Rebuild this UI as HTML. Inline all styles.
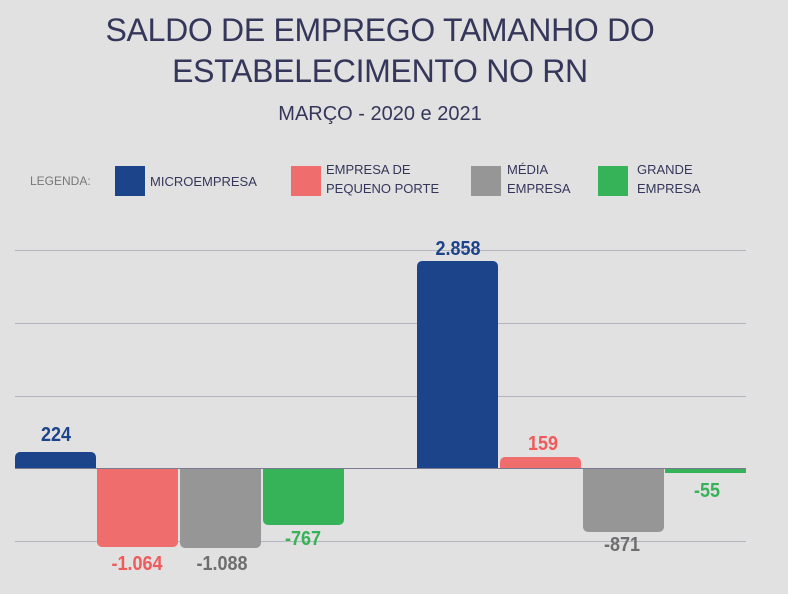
<!DOCTYPE html>
<html><head><meta charset="utf-8"><style>
body{margin:0;width:788px;height:594px;background:#e1e1e1;font-family:"Liberation Sans",sans-serif;overflow:hidden;position:relative}
.a{position:absolute}
.t{left:0;width:760px;text-align:center;color:#34375a;font-size:32px;letter-spacing:-0.3px}
.leg{font-size:13px;color:#34375a;line-height:19px}
.sq{width:30px;height:30px;top:166px}
.g{left:15px;width:731px;height:1px;background:#b4b4be}
.b{width:81px}
.up{border-radius:5px 5px 0 0}
.dn{border-radius:0 0 5px 5px}
.l{font-weight:bold;font-size:20px;width:100px;text-align:center;transform:scaleX(0.9)}
</style></head><body>
<div class="a t" style="top:12px">SALDO DE EMPREGO TAMANHO DO</div>
<div class="a t" style="top:53px">ESTABELECIMENTO NO RN</div>
<div class="a t" style="top:103px;font-size:20px;letter-spacing:0">MARÇO - 2020 e 2021</div>
<div class="a leg" style="left:30px;top:172px;color:#777;font-size:12px">LEGENDA:</div>
<div class="a sq" style="left:115px;background:#1c448a"></div>
<div class="a leg" style="left:150px;top:172px">MICROEMPRESA</div>
<div class="a sq" style="left:291px;background:#ef6d6d"></div>
<div class="a leg" style="left:326px;top:160px">EMPRESA DE<br>PEQUENO PORTE</div>
<div class="a sq" style="left:471px;background:#969696"></div>
<div class="a leg" style="left:507px;top:160px">MÉDIA<br>EMPRESA</div>
<div class="a sq" style="left:598px;background:#36b358"></div>
<div class="a leg" style="left:637px;top:160px">GRANDE<br>EMPRESA</div>
<div class="a g" style="top:250px"></div>
<div class="a g" style="top:323px"></div>
<div class="a g" style="top:396px"></div>
<div class="a g" style="top:541px"></div>
<div class="a b up" style="left:15px;top:452px;height:16px;background:#1c448a"></div>
<div class="a b dn" style="left:97px;top:468px;height:79px;background:#ef6d6d"></div>
<div class="a b dn" style="left:180px;top:468px;height:80px;background:#969696"></div>
<div class="a b dn" style="left:263px;top:468px;height:57px;background:#36b358"></div>
<div class="a b up" style="left:417px;top:261px;height:207px;background:#1c448a"></div>
<div class="a b up" style="left:500px;top:457px;height:11px;background:#ef6d6d"></div>
<div class="a b dn" style="left:583px;top:468px;height:64px;background:#969696"></div>
<div class="a b" style="left:665px;top:468px;height:5px;background:#36b358"></div>
<div class="a g" style="top:468px;background:#7a7a90"></div>
<div class="a l" style="left:6px;top:424px;color:#1c448a">224</div>
<div class="a l" style="left:87px;top:553px;color:#f05a5a">-1.064</div>
<div class="a l" style="left:172px;top:553px;color:#6e6e6e">-1.088</div>
<div class="a l" style="left:253px;top:528px;color:#36b358">-767</div>
<div class="a l" style="left:408px;top:238px;color:#1c448a">2.858</div>
<div class="a l" style="left:493px;top:433px;color:#f05a5a">159</div>
<div class="a l" style="left:572px;top:534px;color:#6e6e6e">-871</div>
<div class="a l" style="left:657px;top:480px;color:#36b358">-55</div>
</body></html>
